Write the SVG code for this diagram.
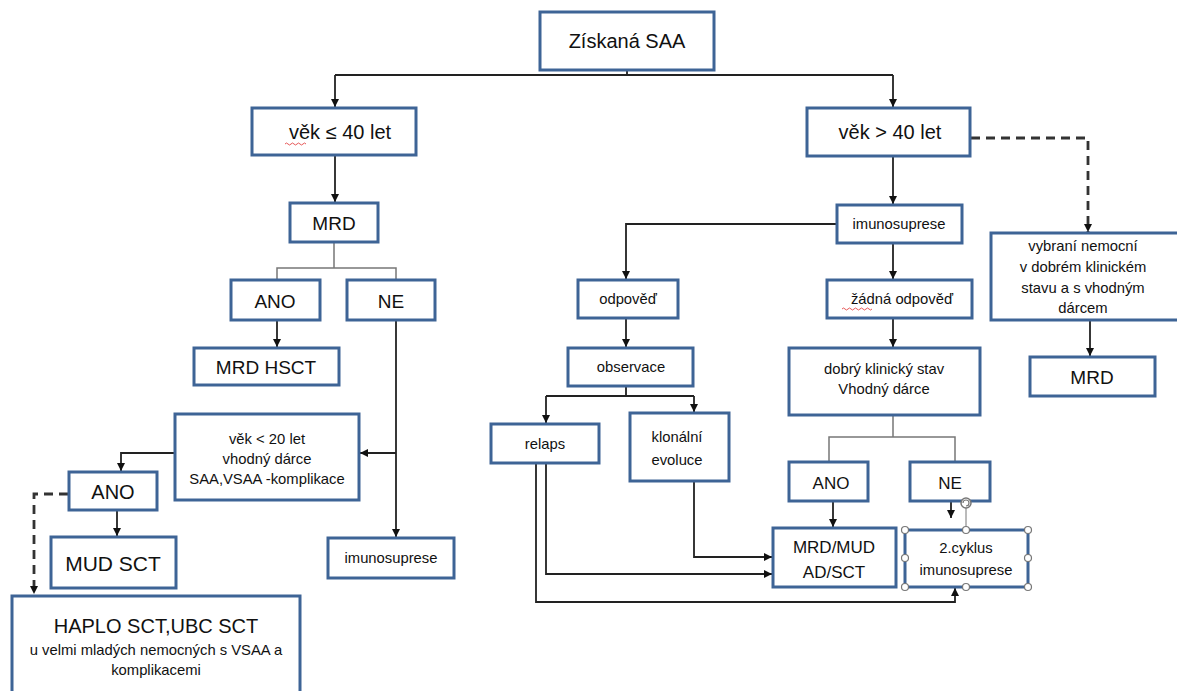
<svg xmlns="http://www.w3.org/2000/svg" width="1177" height="691" viewBox="0 0 1177 691">
<defs>
<style>
.box{fill:#fff;stroke:#3e6496;stroke-width:3}
.t{font-family:"Liberation Sans",Arial,sans-serif;fill:#111;text-anchor:middle}
.big{font-size:19px}
.mid{font-size:17px}
.sm{font-size:14.8px}
.c{fill:none;stroke:#222;stroke-width:1.8}
.g{fill:none;stroke:#777;stroke-width:1.5}
.d{fill:none;stroke:#333;stroke-width:2.8;stroke-dasharray:9,6}
.h{fill:#fff;stroke:#777;stroke-width:1.2}
.sq{fill:none;stroke:#e03030;stroke-width:0.8}
</style>
<marker id="a" viewBox="0 0 10 10" refX="10" refY="5" markerWidth="8" markerHeight="8" markerUnits="userSpaceOnUse" orient="auto">
<path d="M0,0 L10,5 L0,10 z" fill="#111"/>
</marker>
</defs>
<rect width="1177" height="691" fill="#fff"/>
<g id="connectors">
<path class="c" d="M627,70 V75 M335,75 H893"/>
<path class="c" d="M335,75 V107" marker-end="url(#a)"/>
<path class="c" d="M893,75 V107" marker-end="url(#a)"/>
<path class="c" d="M335,156 V202" marker-end="url(#a)"/>
<path class="g" d="M334,242 V268 M277,280 V268 H396 V280"/>
<path class="c" d="M277,320 V347" marker-end="url(#a)"/>
<path class="c" d="M396,320 V537" marker-end="url(#a)"/>
<path class="c" d="M396,453 H360" marker-end="url(#a)"/>
<path class="c" d="M175,453 H121 V471" marker-end="url(#a)"/>
<path class="c" d="M117,510 V536" marker-end="url(#a)"/>
<path class="d" d="M68,494 H34 V594" marker-end="url(#a)"/>
<path class="c" d="M893,157 V204" marker-end="url(#a)"/>
<path class="c" d="M837,224 H626 V279" marker-end="url(#a)"/>
<path class="c" d="M893,243 V279" marker-end="url(#a)"/>
<path class="c" d="M626,318 V347" marker-end="url(#a)"/>
<path class="c" d="M893,318 V347" marker-end="url(#a)"/>
<path class="c" d="M626,386 V396 M546,396 H694"/>
<path class="c" d="M546,396 V423" marker-end="url(#a)"/>
<path class="c" d="M694,396 V412" marker-end="url(#a)"/>
<path class="g" d="M893,415 V437 M829,462 V437 H955 V462"/>
<path class="c" d="M833,501 V527" marker-end="url(#a)"/>
<path class="c" d="M951,501 V518" marker-end="url(#a)"/>
<path class="c" d="M694,481 V557 H772" marker-end="url(#a)"/>
<path class="c" d="M546,463 V574 H772" marker-end="url(#a)"/>
<path class="c" d="M536,463 V602 H955 V588" marker-end="url(#a)"/>
<path class="d" d="M971,138 H1088 V232" marker-end="url(#a)"/>
<path class="c" d="M1090,320 V356" marker-end="url(#a)"/>
</g>
<g id="n_saa"><rect class="box" x="540" y="12" width="174" height="58"/><text class="t" x="627" y="48" font-size="20">Získaná SAA</text></g>
<g id="n_le40"><rect class="box" x="252" y="108" width="164" height="47"/><text class="t" x="340" y="139" font-size="20">věk ≤ 40 let</text><path class="sq" d="M285,144 q1.5,-2 3,0 t3,0 t3,0 t3,0 t3,0 t3,0 t3,0"/></g>
<g id="n_gt40"><rect class="box" x="807" y="108" width="163" height="48"/><text class="t" x="890" y="139" font-size="20">věk &gt; 40 let</text></g>
<g id="n_mrd1"><rect class="box" x="290" y="203" width="88" height="39"/><text class="t big" x="334" y="230">MRD</text></g>
<g id="n_ano1"><rect class="box" x="231" y="280" width="89" height="40"/><text class="t big" x="275" y="308">ANO</text></g>
<g id="n_ne1"><rect class="box" x="347" y="280" width="88" height="40"/><text class="t big" x="391" y="308">NE</text></g>
<g id="n_mrdhsct"><rect class="box" x="194" y="348" width="145" height="37"/><text class="t big" x="266" y="374">MRD HSCT</text></g>
<g id="n_vek20"><rect class="box" x="175" y="414" width="184" height="86"/><text class="t sm" x="267" y="444">věk &lt; 20 let</text><text class="t sm" x="267" y="464">vhodný dárce</text><text class="t sm" x="267" y="484">SAA,VSAA -komplikace</text></g>
<g id="n_ano2"><rect class="box" x="69" y="472" width="88" height="38"/><text class="t" x="113" y="499" font-size="20">ANO</text></g>
<g id="n_mudsct"><rect class="box" x="51" y="537" width="125" height="51"/><text class="t" x="113" y="571" font-size="21">MUD SCT</text></g>
<g id="n_imuno1"><rect class="box" x="328" y="538" width="126" height="40"/><text class="t sm" x="391" y="563">imunosuprese</text></g>
<g id="n_haplo"><rect class="box" x="12" y="596" width="288" height="100"/><text class="t" x="156" y="633" font-size="20">HAPLO SCT,UBC SCT</text><text class="t sm" x="156" y="655">u velmi mladých nemocných s VSAA a</text><text class="t sm" x="156" y="675">komplikacemi</text></g>
<g id="n_imuno2"><rect class="box" x="837" y="205" width="125" height="38"/><text class="t sm" x="899" y="229">imunosuprese</text></g>
<g id="n_odp"><rect class="box" x="578" y="280" width="100" height="38"/><text class="t sm" x="628" y="304">odpověď</text></g>
<g id="n_zadna"><rect class="box" x="827" y="280" width="145" height="38"/><text class="t sm" x="902" y="304">žádná odpověď</text><path class="sq" d="M842,309 q1.5,-2 3,0 t3,0 t3,0 t3,0 t3,0 t3,0 t3,0 t3,0 t3,0 t3,0"/></g>
<g id="n_obs"><rect class="box" x="568" y="348" width="125" height="38"/><text class="t sm" x="631" y="372">observace</text></g>
<g id="n_dobry"><rect class="box" x="789" y="348" width="191" height="67"/><text class="t sm" x="884" y="374">dobrý klinický stav</text><text class="t sm" x="884" y="394">Vhodný dárce</text></g>
<g id="n_relaps"><rect class="box" x="491" y="424" width="108" height="39"/><text class="t sm" x="545" y="449">relaps</text></g>
<g id="n_klon"><rect class="box" x="630" y="413" width="99" height="68"/><text class="t sm" x="677" y="442">klonální</text><text class="t sm" x="677" y="465">evoluce</text></g>
<g id="n_ano3"><rect class="box" x="789" y="462" width="79" height="39"/><text class="t mid" x="831" y="489">ANO</text></g>
<g id="n_ne3"><rect class="box" x="910" y="462" width="80" height="39"/><text class="t mid" x="950" y="489">NE</text></g>
<g id="n_mrdmud"><rect class="box" x="773" y="528" width="123" height="59"/><text class="t mid" x="834" y="553">MRD/MUD</text><text class="t mid" x="834" y="578">AD/SCT</text></g>
<g id="n_cyklus"><rect class="box" x="905" y="530" width="123" height="57"/><text class="t sm" x="966" y="553">2.cyklus</text><text class="t sm" x="966" y="575">imunosuprese</text>
<path d="M966,530 V508" stroke="#777" stroke-width="1" fill="none"/>
<circle cx="966" cy="503" r="5" fill="#fff" stroke="#777" stroke-width="1.5"/><path d="M963,503 a3,3 0 1 1 3,3" fill="none" stroke="#777" stroke-width="1.2"/>
<circle class="h" cx="905" cy="530" r="3.5"/><circle class="h" cx="966" cy="530" r="3.5"/><circle class="h" cx="1028" cy="530" r="3.5"/>
<circle class="h" cx="905" cy="558" r="3.5"/><circle class="h" cx="1028" cy="558" r="3.5"/>
<circle class="h" cx="905" cy="587" r="3.5"/><circle class="h" cx="966" cy="587" r="3.5"/><circle class="h" cx="1028" cy="587" r="3.5"/></g>
<g id="n_vybrani"><rect class="box" x="991" y="233" width="190" height="87"/><text class="t sm" x="1083" y="251">vybraní nemocní</text><text class="t sm" x="1083" y="272">v dobrém klinickém</text><text class="t sm" x="1083" y="293">stavu a s vhodným</text><text class="t sm" x="1083" y="313">dárcem</text></g>
<g id="n_mrd2"><rect class="box" x="1030" y="357" width="125" height="39"/><text class="t big" x="1092" y="384">MRD</text></g>
</svg>
